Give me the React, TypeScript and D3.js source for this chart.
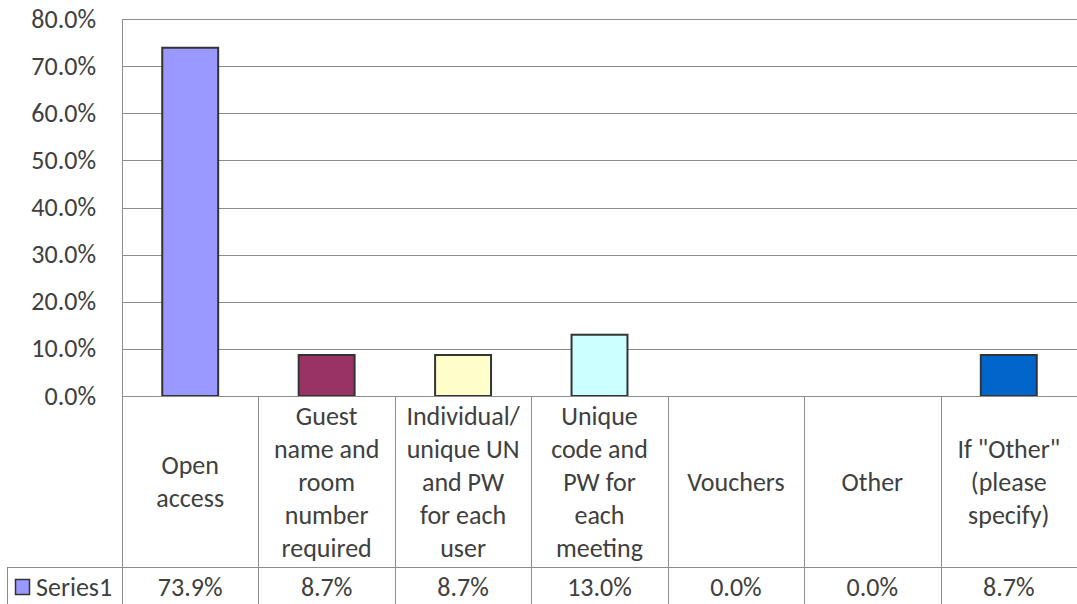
import React from "react";
import * as d3 from "d3";

const categories: string[][] = [
  ["Open", "access"],
  ["Guest", "name and", "room", "number", "required"],
  ["Individual/", "unique UN", "and PW", "for each", "user"],
  ["Unique", "code and", "PW for", "each", "meeting"],
  ["Vouchers"],
  ["Other"],
  ["If \"Other\"", "(please", "specify)"],
];
const values: number[] = [0.739, 0.087, 0.087, 0.13, 0, 0, 0.087];
const valueLabels: string[] = ["73.9%", "8.7%", "8.7%", "13.0%", "0.0%", "0.0%", "8.7%"];
const colors: string[] = ["#9999FF", "#993366", "#FFFFCC", "#CCFFFF", "#660066", "#FF8080", "#0066CC"];
const ticks: number[] = [0, 0.1, 0.2, 0.3, 0.4, 0.5, 0.6, 0.7, 0.8];
const seriesName = "Series1";

export default function App() {
  const W = 1077, H = 604;
  const left = 122, right = 1077, top = 19, bottom = 396;
  const rowSep = 567, tableLeft = 7;
  const font = "Carlito, Calibri, Lato, sans-serif";
  const fs = 26;
  const textColor = "#404040";
  const grid = "#8c8c8c";

  const x = d3.scaleBand<number>().domain(d3.range(categories.length)).range([left, right]).paddingInner(0).paddingOuter(0);
  const y = d3.scaleLinear().domain([0, 0.8]).range([bottom, top]);
  const bw = x.bandwidth() * 0.41;
  const fmt = d3.format(".1%");
  const lineH = 33;
  const labelCenter = (bottom + rowSep) / 2;
  const rowBase = 596;

  return (
    <svg width={W} height={H} style={{ position: "absolute", left: 0, top: 0, fontFamily: font }}>
      <rect x={0} y={0} width={W} height={H} fill="#fff" />
      {ticks.map((t) => (
        <g key={t}>
          <line x1={left} x2={right} y1={Math.round(y(t)) + 0.5} y2={Math.round(y(t)) + 0.5} stroke={grid} strokeWidth={1} />
          <text x={96} y={y(t) + 8.5} textAnchor="end" fontSize={fs} fill={textColor}>{fmt(t)}</text>
        </g>
      ))}
      {values.map((v, i) =>
        v > 0 ? (
          <rect key={i} x={x(i)! + (x.bandwidth() - bw) / 2} y={y(v)} width={bw} height={bottom - y(v)}
            fill={colors[i]} stroke="#333" strokeWidth={2} />
        ) : null
      )}
      <line x1={left + 0.5} x2={left + 0.5} y1={top} y2={H} stroke={grid} />
      <line x1={left} x2={right} y1={bottom + 0.5} y2={bottom + 0.5} stroke={grid} />
      <line x1={tableLeft} x2={right} y1={rowSep + 0.5} y2={rowSep + 0.5} stroke={grid} />
      <line x1={tableLeft + 0.5} x2={tableLeft + 0.5} y1={rowSep} y2={H} stroke={grid} />
      {categories.map((c, i) => (
        <g key={i}>
          {i > 0 && <line x1={Math.round(x(i)!) + 0.5} x2={Math.round(x(i)!) + 0.5} y1={bottom} y2={H} stroke={grid} />}
          {c.map((s, j) => (
            <text key={j} x={x(i)! + x.bandwidth() / 2} y={labelCenter + (j - (c.length - 1) / 2) * lineH + 9}
              textAnchor="middle" fontSize={fs} fill={textColor}>{s}</text>
          ))}
          <text x={x(i)! + x.bandwidth() / 2} y={rowBase} textAnchor="middle" fontSize={fs} fill={textColor}>{valueLabels[i]}</text>
        </g>
      ))}
      <rect x={15.5} y={579.5} width={14} height={15} fill={colors[0]} stroke="#333" strokeWidth={1.5} />
      <text x={36} y={rowBase} fontSize={fs} fill={textColor}>{seriesName}</text>
    </svg>
  );
}
